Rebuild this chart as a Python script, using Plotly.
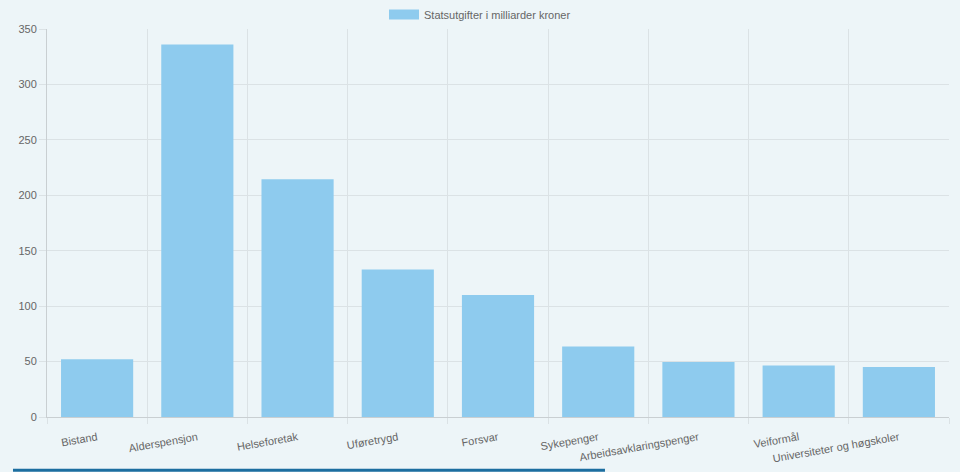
import plotly.graph_objects as go

kategorier = ["Bistand", "Alderspensjon", "Helseforetak", "Uføretrygd", "Forsvar",
              "Sykepenger", "Arbeidsavklaringspenger", "Veiformål",
              "Universiteter og høgskoler"]
utgifter = [52, 336, 214.5, 133, 110, 63.5, 49.7, 46.4, 45.2]
serie_navn = "Statsutgifter i milliarder kroner"
y_ticks = [0, 50, 100, 150, 200, 250, 300, 350]

bakgrunn = "#edf5f8"
stolpe = "#8ecbee"
rutenett = "#dbe2e5"
tekst = "#666666"

fig = go.Figure()
fig.add_trace(go.Bar(x=kategorier, y=utgifter, marker_color=stolpe,
                     marker_line_width=0, showlegend=False, hoverinfo="x+y"))
# legend entry drawn as a wide box, like the original
fig.add_trace(go.Scatter(x=[None], y=[None], mode="lines", name=serie_navn,
                         line=dict(color=stolpe, width=10)))

fig.update_layout(
    width=960, height=472,
    margin=dict(l=47, r=11, t=27, b=55),
    paper_bgcolor=bakgrunn, plot_bgcolor=bakgrunn,
    font=dict(family="Liberation Sans, Arial, sans-serif", size=11, color=tekst),
    bargap=0.28,
    legend=dict(orientation="h", xref="container", yref="container",
                x=0.5, xanchor="center", y=1.0, yanchor="top",
                font=dict(size=11, color=tekst), bgcolor="rgba(0,0,0,0)",
                itemwidth=30),
    xaxis=dict(type="category", tickson="boundaries", showgrid=True,
               gridcolor=rutenett, ticks="outside", ticklen=6, tickcolor=rutenett,
               tickangle=-10, showline=True, linecolor="#c9cfd2",
               ticklabelstandoff=9, automargin=False,
               tickfont=dict(size=11, color=tekst)),
    yaxis=dict(range=[0, 350], tickvals=y_ticks, showgrid=True, gridcolor=rutenett,
               ticks="outside", ticklen=7, tickcolor=rutenett, zeroline=False,
               showline=True, linecolor="#c9cfd2", automargin=False,
               tickfont=dict(size=11, color=tekst)),
    shapes=[dict(type="rect", xref="paper", yref="paper", x0=-0.0377, x1=0.6186,
                 y0=-0.141, y1=-0.1333, fillcolor="#1c6ea0", line_width=0)],
)

# no page margin, so the figure fills the window
fig.write_html("out.html", config={"displayModeBar": False},
               post_script="document.body.style.margin='0';"
                           "document.body.style.background='#edf5f8';")
